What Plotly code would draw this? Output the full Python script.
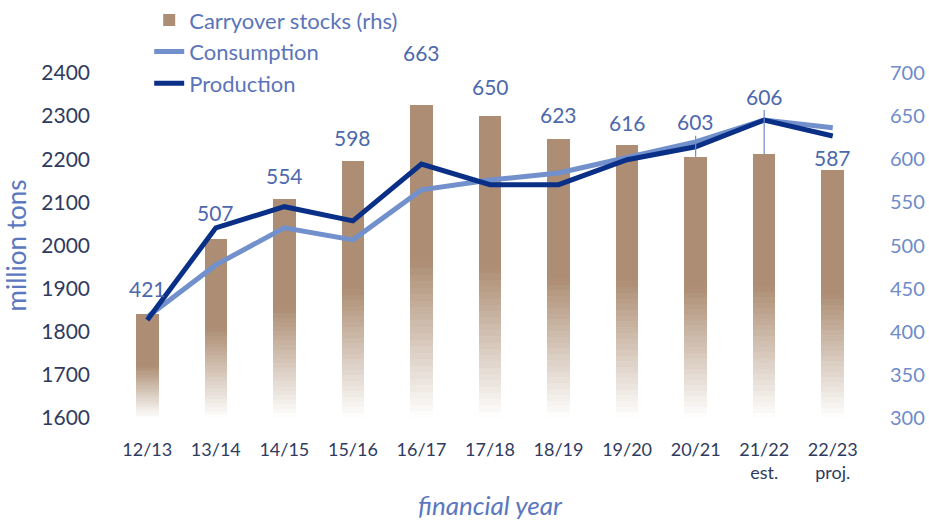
import plotly.graph_objects as go

# Daten
years = ['12/13', '13/14', '14/15', '15/16', '16/17', '17/18', '18/19', '19/20', '20/21', '21/22', '22/23']
year_labels = ['12/13', '13/14', '14/15', '15/16', '16/17', '17/18', '18/19', '19/20', '20/21',
               '21/22<br>est.', '22/23<br>proj.']
stocks = [421, 507, 554, 598, 663, 650, 623, 616, 603, 606, 587]
consumption = [1834, 1955, 2041, 2013, 2129, 2152, 2168, 2205, 2240, 2291, 2273]
production = [1827, 2041, 2090, 2057, 2189, 2141, 2141, 2199, 2229, 2291, 2254]

# Abstand der Beschriftung über dem Balken (px)
label_shift = [25, 27, 23, 23, 52, 30, 25, 23, 35, 58, 13]
leader = [False] * 8 + [True, True, False]

BROWN = (173, 142, 116)
FONT = 'Lato'
STOCK_MIN = 300

fig = go.Figure()

# Balken mit Verlauf: obere Hälfte voll, untere Hälfte Richtung Weiß
n_steps = 24
h = [v - STOCK_MIN for v in stocks]
fig.add_trace(go.Bar(x=years, y=[x * 0.5 for x in h], base=[STOCK_MIN + x * 0.5 for x in h],
                     width=0.33, marker=dict(color='rgb(%d,%d,%d)' % BROWN, line_width=0),
                     name='Carryover stocks (rhs)', legendgroup='s', yaxis='y', hoverinfo='skip'))
for k in range(n_steps):
    t = (k + 0.5) / n_steps
    c = tuple(round(255 + (b - 255) * t) for b in BROWN)
    fig.add_trace(go.Bar(x=years, y=[x * 0.5 / n_steps * 1.08 for x in h],
                         base=[STOCK_MIN + x * 0.5 * k / n_steps for x in h],
                         width=0.33, marker=dict(color='rgb(%d,%d,%d)' % c, line_width=0),
                         showlegend=False, legendgroup='s', yaxis='y', hoverinfo='skip'))

# Verbrauch
fig.add_trace(go.Scatter(x=years, y=consumption, mode='lines', name='Consumption', legendgroup='c',
                         line=dict(color='#7190CC', width=5), yaxis='y2'))
# Produktion
fig.add_trace(go.Scatter(x=years, y=production, mode='lines', name='Production', legendgroup='p',
                         line=dict(color='#0A2F86', width=5), yaxis='y2'))

# Datenbeschriftung Lagerbestand
for yr, v, s, ld in zip(years, stocks, label_shift, leader):
    fig.add_annotation(x=yr, y=v, xref='x', yref='y', text=str(v), showarrow=True,
                       ax=0, ay=-s, arrowhead=0, arrowwidth=1.2,
                       arrowcolor='#6F8CCB' if ld else 'rgba(0,0,0,0)',
                       font=dict(family=FONT, size=21, color='#4D68AD'))

fig.update_layout(
    width=929, height=521,
    margin=dict(l=113, r=62, t=73, b=103, autoexpand=False),
    plot_bgcolor='white', paper_bgcolor='white',
    barmode='overlay', bargap=0,
    font=dict(family=FONT),
    showlegend=True,
    legend=dict(x=0.048, y=1.214, xanchor='left', yanchor='top', bgcolor='rgba(0,0,0,0)',
                font=dict(family=FONT, size=22, color='#5B74B9'), tracegroupgap=0),
    xaxis=dict(tickvals=years, ticktext=year_labels, showgrid=False, showline=False, ticks='',
               tickfont=dict(family=FONT, size=18, color='#2F3B5E'), ticklabelstandoff=19,
               title=dict(text='<i>financial year</i>', font=dict(family=FONT, size=26, color='#5B77BE'),
                          standoff=25)),
    yaxis=dict(side='right', range=[300, 700], dtick=50, showgrid=False, zeroline=False, ticks='',
               tickfont=dict(family=FONT, size=20, color='#6E8BCB'), ticklabelstandoff=22),
    yaxis2=dict(overlaying='y', side='left', range=[1600, 2400], dtick=100, showgrid=False,
                zeroline=False, ticks='', tickfont=dict(family=FONT, size=21, color='#2F3B5E'),
                ticklabelstandoff=22,
                title=dict(text='million tons', font=dict(family=FONT, size=26, color='#5B77BE'),
                           standoff=24)),
)

# Seitenrand weg, damit die Figur genau ins Fenster passt
fig.write_html("out.html", config={'displayModeBar': False},
               post_script="document.body.style.margin='0';")
